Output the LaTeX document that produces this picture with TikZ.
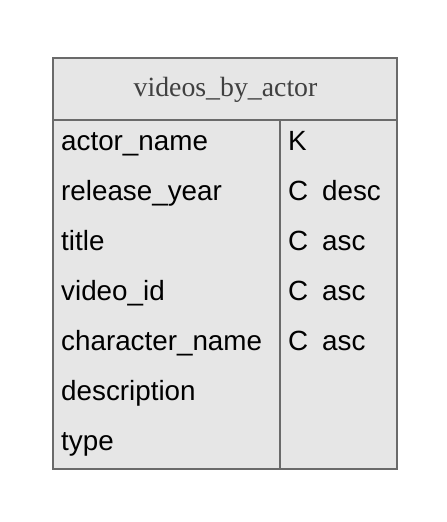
\documentclass[tikz,border=0pt]{standalone}
\usepackage{fontspec}
\setmainfont{Liberation Serif}
\setsansfont{Liberation Sans}
\definecolor{boxfill}{HTML}{E6E6E6}
\definecolor{boxline}{HTML}{6A6A6A}
\definecolor{titletext}{HTML}{404040}
\begin{document}
\begin{tikzpicture}[x=1pt,y=-1pt,
  tbl/.style={draw=boxline,line width=2.5pt,fill=boxfill},
  rule/.style={draw=boxline,line width=2.5pt},
  field/.style={anchor=base west,inner sep=0pt,font=\sffamily\fontsize{27.8}{32}\selectfont,text=black},
  heading/.style={anchor=base,inner sep=0pt,font=\rmfamily\fontsize{27.8}{32}\selectfont,text=titletext}]
\useasboundingbox (0,0) rectangle (447,522);
\coordinate (tl) at (53,58);
\coordinate (br) at (397,469);
\coordinate (hl) at (53,120);
\coordinate (hr) at (397,120);
\coordinate (dt) at (280,120);
\coordinate (db) at (280,469);
\filldraw[tbl] (tl) rectangle (br);
\draw[rule] (hl) -- (hr);
\draw[rule] (dt) -- (db);
\node[heading] (title) at (225.5,96) {videos\_by\_actor};
\node[field] (f1) at (61,150) {actor\_name};
\node[field] (f2) at (61,200) {release\_year};
\node[field] (f3) at (61,250) {title};
\node[field] (f4) at (61,300) {video\_id};
\node[field] (f5) at (61,350) {character\_name};
\node[field] (f6) at (61,400) {description};
\node[field] (f7) at (61,450) {type};
\node[field] (k1) at (288,150) {K};
\node[field] (k2) at (288,200) {C\hspace{0.5em}desc};
\node[field] (k3) at (288,250) {C\hspace{0.5em}asc};
\node[field] (k4) at (288,300) {C\hspace{0.5em}asc};
\node[field] (k5) at (288,350) {C\hspace{0.5em}asc};
\end{tikzpicture}
\end{document}
